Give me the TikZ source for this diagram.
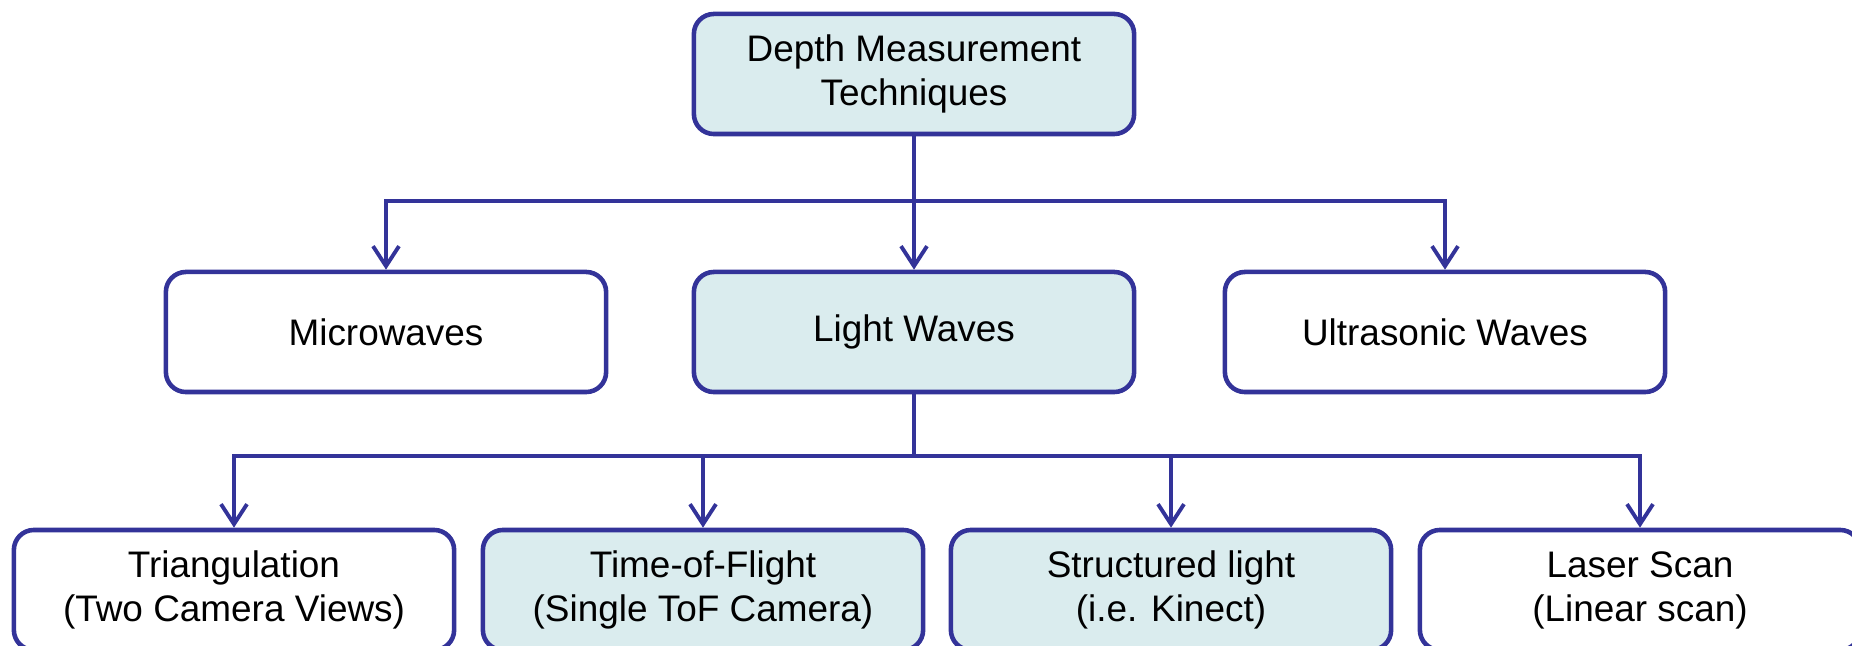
\documentclass[tikz,border=0pt]{standalone}
\usepackage{fontspec}
\setmainfont{Liberation Sans}
\usetikzlibrary{arrows.meta}
\definecolor{navy}{RGB}{51,51,153}
\definecolor{paleblue}{RGB}{218,236,238}
\begin{document}
\begin{tikzpicture}[x=0.01cm,y=-0.01cm,
    box/.style={draw=navy,line width=1.3pt,rounded corners=0.2cm,fill=white,
      minimum width=4.4cm,minimum height=1.2cm,align=center,
      font=\fontsize{10.5}{12.5}\selectfont},
    shaded/.style={box,fill=paleblue},
    link/.style={draw=navy,line width=1.1pt},
    arr/.style={link,-{Straight Barb[length=0.2cm,width=0.26cm,line width=1.1pt]}}]
  \useasboundingbox (0,0) rectangle (1852,646);
  \draw
    (914,74) node[shaded] (top){Depth Measurement\\Techniques}
    (386,332) node[box] (mw){Microwaves}
    (914,332) node[shaded] (lw){Light Waves}
    (1445,332) node[box] (us){Ultrasonic Waves}
    (234,590) node[box] (tri){Triangulation\\(Two Camera Views)}
    (703,590) node[shaded] (tof){Time-of-Flight\\(Single ToF Camera)}
    (1171,590) node[shaded] (sl){Structured light\\(i.e. Kinect)}
    (1640,590) node[box] (ls){Laser Scan\\(Linear scan)};
  \coordinate (j1) at (914,201);
  \coordinate (j2) at (914,456);
  \draw[link] (top) -- (j1);
  \draw[link] (lw) -- (j2);
  \begin{scope}[arr]
    \draw (j1) -| (mw);
    \draw (j1) -- (lw);
    \draw (j1) -| (us);
    \draw (j2) -| (tri);
    \draw (j2) -| (tof);
    \draw (j2) -| (sl);
    \draw (j2) -| (ls);
  \end{scope}
\end{tikzpicture}
\end{document}
